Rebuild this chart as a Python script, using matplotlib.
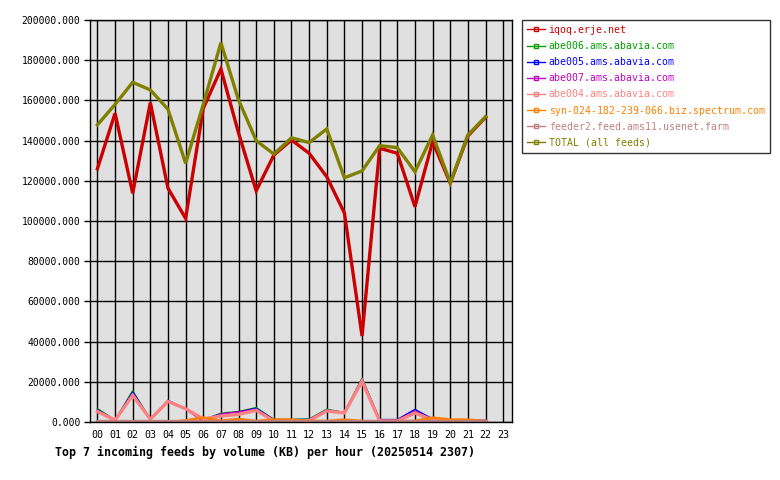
import matplotlib.pyplot as plt
from matplotlib.lines import Line2D
import numpy as np

hours = ["%02d" % h for h in range(24)]

# KB per hour (hours 00..22)
iqoq = [126000, 153600, 113800, 158900, 116300, 101300, 156000, 175600, 143800, 115000,
        132800, 140300, 133700, 122000, 104000, 42800, 136200, 133700, 107100, 139500,
        118800, 142300, 151600]
abe006 = [6700, 1000, 15600, 1300, 10600, 6400, 1000, 4400, 5200, 7200,
          1300, 1300, 1500, 6400, 4700, 21800, 1200, 1200, 5900, 1300,
          1000, 1000, 700]
abe005 = [6200, 1000, 15000, 1400, 10800, 6500, 1300, 4000, 5000, 6800,
          1200, 1200, 1300, 6000, 4800, 21500, 1200, 1200, 6300, 1500,
          1000, 1000, 800]
abe007 = [5800, 900, 14000, 1300, 10500, 6300, 300, 4000, 5000, 6400,
          1000, 1000, 1200, 5800, 4600, 20800, 1000, 1000, 5500, 1200,
          800, 800, 600]
abe004 = [5200, 900, 13300, 1400, 10200, 6600, 1500, 3000, 3800, 5800,
          500, 500, 700, 5500, 4500, 20300, 500, 500, 4500, 1000,
          500, 500, 300]
syn = [0, 0, 0, 0, 0, 800, 2200, 700, 1500, 500,
       1200, 1200, 500, 500, 1200, 500, 300, 300, 600, 2200,
       1200, 1200, 400]
feeder2 = [300] * 23
total = [147800, 158000, 169000, 165200, 155600, 128700, 158000, 188700, 160200, 140000,
         133300, 141400, 139000, 145800, 121500, 124900, 137500, 136500, 124500, 142800,
         119100, 142800, 151900]

series = [
    ("iqoq.erje.net", iqoq, "#cc0000", 2.4),
    ("abe006.ams.abavia.com", abe006, "#00a000", 1.0),
    ("abe005.ams.abavia.com", abe005, "#0000ff", 1.0),
    ("abe007.ams.abavia.com", abe007, "#c000c0", 1.0),
    ("abe004.ams.abavia.com", abe004, "#ff8080", 2.4),
    ("syn-024-182-239-066.biz.spectrum.com", syn, "#ff8000", 1.8),
    ("feeder2.feed.ams11.usenet.farm", feeder2, "#c08080", 2.4),
    ("TOTAL (all feeds)", total, "#808000", 2.4),
]

plt.rcParams['font.family'] = ['DejaVu Sans Mono']

fig = plt.figure(figsize=(7.8, 4.8), dpi=100)
ax = fig.add_axes([90 / 780, 1 - 422 / 480, 422 / 780, 402 / 480])
ax.set_facecolor("#e0e0e0")

x = np.arange(len(iqoq))
handles = []
for name, vals, col, lw in series:
    ax.plot(x, vals, color=col, lw=lw, solid_joinstyle='miter')
    handles.append(Line2D([0], [0], color=col, lw=1, marker='s', ms=3,
                          fillstyle='none', label=name))

ax.set_xlim(-0.42, 23.5)
ax.set_ylim(0, 200000)
ax.set_xticks(range(24))
ax.set_xticklabels(hours)
ax.set_yticks(np.arange(0, 200001, 20000))
ax.set_yticklabels(["%.3f" % v for v in np.arange(0, 200001, 20000)])
ax.grid(True, color='black', lw=1)
ax.set_axisbelow(True)
ax.tick_params(axis='x', length=0, pad=6, labelsize=7.2)
ax.tick_params(axis='y', length=4, width=1, pad=3, labelsize=7.0)
for s in ax.spines.values():
    s.set_color('black')
    s.set_linewidth(1)

leg = fig.legend(handles=handles, loc='upper left', bbox_to_anchor=(522 / 780, 1 - 20 / 480),
                 fontsize=7.1, labelcolor='linecolor', frameon=True, fancybox=False,
                 edgecolor='black', handlelength=1.8, handletextpad=0.4,
                 labelspacing=0.62, borderpad=0.5, borderaxespad=0)
leg.get_frame().set_linewidth(1)

fig.text(55 / 780, 1 - 452 / 480, "Top 7 incoming feeds by volume (KB) per hour (20250514 2307)",
         fontsize=8.35, fontweight='bold', va='center', ha='left')

fig.savefig("out.png", dpi=100)
